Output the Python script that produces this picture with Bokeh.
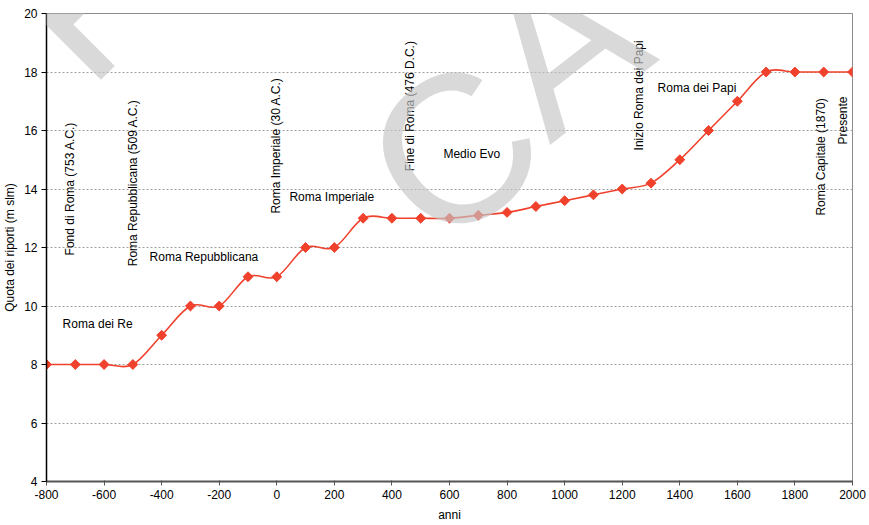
from bokeh.plotting import figure
from bokeh.models import Range1d, FixedTicker, Label, ColumnDataSource
from bokeh.core.properties import value
from bokeh.embed import file_html
from bokeh.resources import INLINE
import numpy as np

# Quota dei riporti (m slm) per anno
anni = [-800, -700, -600, -500, -400, -300, -200, -100, 0, 100, 200, 300, 400,
        500, 600, 700, 800, 900, 1000, 1100, 1200, 1300, 1400, 1500, 1600,
        1700, 1800, 1900, 2000]
quota = [8, 8, 8, 8, 9, 10, 10, 11, 11, 12, 12, 13, 13,
         13, 13, 13.1, 13.2, 13.4, 13.6, 13.8, 14, 14.2, 15, 16, 17,
         18, 18, 18, 18]

x_ticks = [-800, -600, -400, -200, 0, 200, 400, 600, 800, 1000, 1200, 1400, 1600, 1800, 2000]
x_tick_labels = ["-800", "-600", "-400", "-200", "0", "200", "400", "600", "800",
                 "1000", "1200", "1400", "1600", "1800", "2000"]
y_ticks = [4, 6, 8, 10, 12, 14, 16, 18, 20]

# Eventi (testo verticale): testo, anno, quota di partenza
eventi = ["Fond di Roma (753 A.C.)", "Roma Repubblicana (509 A.C.)",
          "Roma Imperiale  (30 A.C.)", "Fine di Roma  (476 D.C.)",
          "Inizio Roma  dei Papi", "Roma Capitale (1870)", "Presente"]
eventi_x = [-717, -499, -1, 462, 1258, 1891, 1966]
eventi_y = [11.73, 11.36, 13.16, 14.61, 15.32, 13.09, 15.52]

# Periodi (testo orizzontale)
periodi = ["Roma dei Re", "Roma Repubblicana", "Roma Imperiale", "Medio Evo", "Roma  dei Papi"]
periodi_x = [-744, -442, 44, 579, 1323]
periodi_y = [9.40, 11.69, 13.71, 15.21, 17.44]

FONT = "Liberation Sans"
RED = "#f0412d"

p = figure(width=869, height=525, output_backend="svg", toolbar_location=None,
           x_range=Range1d(-800, 2000), y_range=Range1d(4, 20),
           min_border_left=46, min_border_right=17, min_border_top=13,
           min_border_bottom=44)
p.background_fill_color = "white"
p.border_fill_color = "white"
p.outline_line_color = "#8c8c8c"
p.outline_line_width = 1

# grid
p.xgrid.grid_line_color = None
p.ygrid.grid_line_color = "#a0a0a0"
p.ygrid.grid_line_dash = "2 2"
p.ygrid.grid_line_width = 1
p.ygrid.ticker = FixedTicker(ticks=y_ticks)

# axes
p.xaxis.ticker = FixedTicker(ticks=x_ticks)
p.xaxis.major_label_overrides = {t: s for t, s in zip(x_ticks, x_tick_labels)}
p.yaxis.ticker = FixedTicker(ticks=y_ticks)
p.yaxis.major_label_overrides = {t: str(t) for t in y_ticks}
for ax in (p.xaxis, p.yaxis):
    ax.minor_tick_line_color = None
    ax.major_label_text_font = FONT
    ax.major_label_text_font_size = "12px"
    ax.major_label_text_color = "black"
    ax.axis_label_text_font = FONT
    ax.axis_label_text_font_size = "12px"
    ax.axis_label_text_font_style = "normal"
    ax.axis_label_text_color = "black"
p.xaxis.axis_label = "anni"
p.yaxis.axis_label = "Quota dei riporti (m slm)"
p.xaxis.axis_line_color = "#555555"
p.xaxis.axis_line_width = 2
p.xaxis.major_tick_line_color = "#555555"
p.xaxis.major_tick_out = 4
p.xaxis.major_tick_in = 1
p.xaxis.major_label_standoff = 4
p.xaxis.axis_label_standoff = 6
p.yaxis.axis_line_color = "black"
p.yaxis.axis_line_width = 1.5
p.yaxis.major_tick_line_color = "black"
p.yaxis.major_tick_out = 5
p.yaxis.major_tick_in = 0
p.yaxis.major_label_standoff = 4
p.yaxis.axis_label_standoff = 4

# smoothed line: cubic Bezier segments (Catmull-Rom control points)
xs = np.array(anni, dtype=float)
ys = np.array(quota, dtype=float)
n = len(xs)
xp = np.concatenate([[xs[0]], xs, [xs[-1]]])
yp = np.concatenate([[ys[0]], ys, [ys[-1]]])
seg = ColumnDataSource(dict(
    x0=xs[:-1], y0=ys[:-1], x1=xs[1:], y1=ys[1:],
    cx0=xs[:-1] + (xp[2:n + 1] - xp[0:n - 1]) / 6,
    cy0=ys[:-1] + (yp[2:n + 1] - yp[0:n - 1]) / 6,
    cx1=xs[1:] - (xp[3:n + 2] - xp[1:n]) / 6,
    cy1=ys[1:] - (yp[3:n + 2] - yp[1:n]) / 6,
))
p.bezier(x0="x0", y0="y0", x1="x1", y1="y1", cx0="cx0", cy0="cy0",
         cx1="cx1", cy1="cy1", source=seg, line_color=RED, line_width=1.6)
p.scatter(anni, quota, marker="square", angle=np.pi / 4, size=7,
          fill_color=RED, line_color=RED)

# labels
p.text(eventi_x, eventi_y, text=eventi, angle=np.pi / 2, text_align="left",
       text_baseline="middle", text_font=value(FONT), text_font_size="12px",
       text_color="black")
p.text(periodi_x, periodi_y, text=periodi, text_align="left",
       text_baseline="middle", text_font=value(FONT), text_font_size="12px",
       text_color="black")

# watermark letters
for ch, wx, wy, ang in [("F", -674, 20.62, 0.785), ("C", 614, 15.3, 0.66),
                        ("A", 986, 18.92, 0.66)]:
    p.add_layout(Label(x=wx, y=wy, text=ch, angle=ang,
                       text_align="center", text_baseline="middle",
                       text_font=FONT, text_font_size="210px",
                       text_color="#c5c5c5", text_alpha=0.65))

open("out.html", "w").write(file_html(p, INLINE))
